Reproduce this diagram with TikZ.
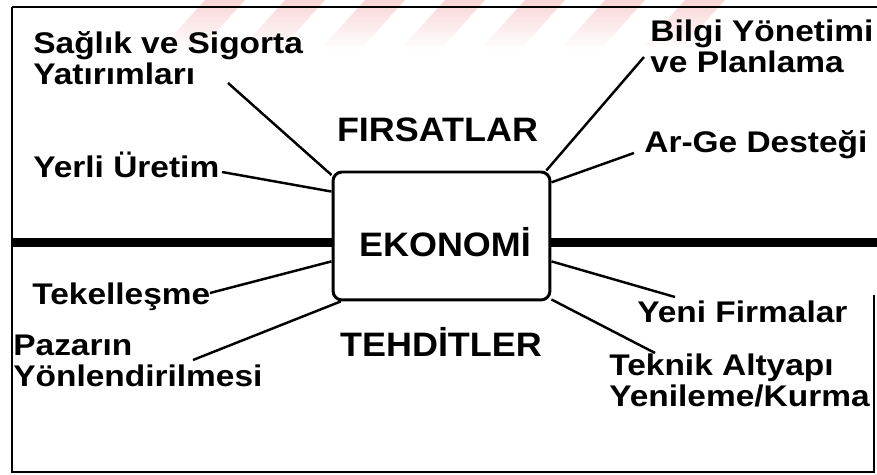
\documentclass[tikz,border=0pt]{standalone}
\usepackage{fontspec}
\setmainfont{Liberation Sans}[FakeStretch=1.12]
\newfontfamily\bigfont{Liberation Sans}[FakeStretch=1.06]
\definecolor{wmpink}{RGB}{249,214,214}

\begin{document}
\begin{tikzpicture}[x=0.02cm,y=-0.02cm,
  lbl/.style={anchor=base west,inner sep=0pt,align=left,font=\fontsize{17}{18.2}\selectfont\bfseries},
  head/.style={anchor=base,inner sep=0pt,font=\bigfont\fontsize{19.3}{22}\selectfont\bfseries},
  ekobox/.style={draw,line width=1.7pt,rounded corners=0.18cm,fill=white,minimum width=4.34cm,minimum height=2.56cm,inner sep=0pt},
  conn/.style={line width=1.4pt},
  frame/.style={line width=1.2pt},
  stripe/.style={top color=wmpink,bottom color=white,draw=none}]
\useasboundingbox (0,0) rectangle (877,475);
\shade[stripe] (205,0) -- (245,0) -- (200,50) -- (160,50) -- cycle;
\shade[stripe] (285,0) -- (325,0) -- (280,50) -- (240,50) -- cycle;
\shade[stripe] (365,0) -- (405,0) -- (360,50) -- (320,50) -- cycle;
\shade[stripe] (445,0) -- (485,0) -- (440,50) -- (400,50) -- cycle;
\shade[stripe] (525,0) -- (565,0) -- (520,50) -- (480,50) -- cycle;
\shade[stripe] (605,0) -- (645,0) -- (600,50) -- (560,50) -- cycle;
\shade[stripe] (685,0) -- (725,0) -- (680,50) -- (640,50) -- cycle;
\draw[frame] (12,7) -- (877,7);
\draw[frame] (12,7) -- (12,472) -- (875,472);
\draw[frame] (874,295) -- (874,472);
\draw[line width=5.2pt] (12,242.5) -- (877,242.5);
\node[ekobox] (eko) at (441.5,236) {};
\node[head] (ekotxt) at (445,257) {EKONOMİ};
\node[head] (firsat) at (437.5,142) {FIRSATLAR};
\node[head] (tehdit) at (441,357) {TEHDİTLER};
\node[lbl] (saglik) at (33,85) {Sağlık ve Sigorta\\Yatırımları};
\node[lbl] (yerli) at (33,178) {Yerli Üretim};
\node[lbl] (bilgi) at (650,73) {Bilgi Yönetimi\\ve Planlama};
\node[lbl] (arge) at (644,153) {Ar-Ge Desteği};
\node[lbl] (tekel) at (32,305) {Tekelleşme};
\node[lbl] (pazar) at (13,387) {Pazarın\\Yönlendirilmesi};
\node[lbl] (yeni) at (637,323) {Yeni Firmalar};
\node[lbl] (teknik) at (609,407) {Teknik Altyapı\\Yenileme/Kurma};
\coordinate (saglikend) at (228,83);
\coordinate (yerliend) at (222,172);
\coordinate (bilgiend) at (644,57);
\coordinate (argeend) at (634,153);
\coordinate (tekelend) at (210,293);
\coordinate (pazarend) at (193,360);
\coordinate (yeniend) at (675,297);
\coordinate (teknikend) at (655,353);
\draw[conn] (saglikend) -- (eko.151);
\draw[conn] (yerliend) -- (eko.158);
\draw[conn] (bilgiend) -- (eko.32);
\draw[conn] (argeend) -- (eko.26.5);
\draw[conn] (tekelend) -- (eko.193);
\draw[conn] (pazarend) -- (eko.213);
\draw[conn] (yeniend) -- (eko.347.5);
\draw[conn] (teknikend) -- (eko.330);
\end{tikzpicture}
\end{document}
